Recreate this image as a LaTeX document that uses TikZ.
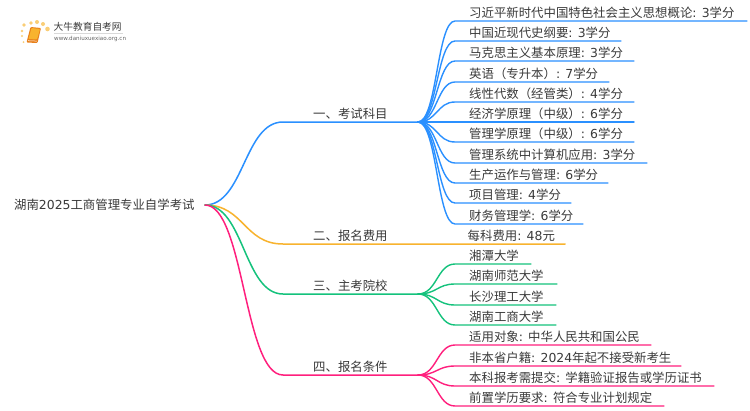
\documentclass[tikz,border=0pt]{standalone}
\usepackage{fontspec}
\setmainfont{DejaVu Sans}
\newfontfamily\cjk{Noto Sans CJK SC}
\newcommand{\C}[1]{{\cjk #1}}
\definecolor{cblue}{HTML}{2A90FF}
\definecolor{corange}{HTML}{F8B32E}
\definecolor{cgreen}{HTML}{14C27C}
\definecolor{cpink}{HTML}{FF1F7D}
\definecolor{ctext}{HTML}{3A3A3A}
\definecolor{cbook}{HTML}{F59A1E}
\definecolor{cbookdark}{HTML}{E8801A}
\tikzset{
  label/.style={anchor=base west,inner sep=0pt,text=ctext,font=\fontsize{12.4pt}{14pt}\selectfont},
  wire/.style={line width=1.5pt,line cap=round},
}
\begin{document}
\begin{tikzpicture}[x=1pt,y=-1pt]
\useasboundingbox (0,0) rectangle (750,410);
\fill[white] (0,0) rectangle (750,410);
% logo
\foreach \i/\px/\py/\r in {a/24/25/1.8,b/22/31/1.3,c/22/36/1.2,d/23.5/42/1,e/31/23/1.9,f/37/22/2,g/43/24/2,h/47.5/29/2.3}
  \fill[corange!65] (\px,\py) circle (\r);
\fill[cbookdark,rounded corners=1pt] (30.5,27) -- (41,28) -- (37.5,43) -- (26.5,42.5) -- cycle;
\fill[corange,rounded corners=.8pt] (31.5,28) -- (40,29) -- (37,39.5) -- (28.5,39) -- cycle;
\draw[white,line width=.5pt] (28,40.7) -- (36.8,41.1);
\node[anchor=base west,inner sep=0pt,text=ctext,font=\fontsize{9.7pt}{11pt}\selectfont] (logotitle) at (53.5,30.5) {\C{大牛教育自考网}};
\draw[black!15,line width=.6pt] (54,33.5) -- (123,33.5);
\node[anchor=base west,inner sep=0pt,text=black!60,font=\fontsize{5.6pt}{7pt}\selectfont] (logourl) at (54,40.5) {www.daniuxuexiao.org.cn};
% root
\node[label] (root) at (14,209.5) {\C{湖南}2025\C{工商管理专业自学考试}};
\coordinate (o) at (205,205);
% branches
\foreach \n/\y/\c/\e/\t in {
  b1/122/cblue/418/一、考试科目,
  b2/244/corange/565/二、报名费用,
  b3/294/cgreen/418/三、主考院校,
  b4/375/cpink/418/四、报名条件}{
  \coordinate (\n s) at (283,\y);
  \coordinate (\n e) at (\e,\y);
  \node[label] (\n) at (313,\y-3.5) {\C{\t}};
  \draw[wire,\c] (o) .. controls (244,205) and (244,\y) .. (\n s) -- (\n e);
}
\node[label] (fee) at (467.5,240) {\C{每科费用}: 48\C{元}};
% leaves
\foreach \n/\p/\c/\py/\y/\e/\t in {
  a1/b1/cblue/122/21/747/{\C{习近平新时代中国特色社会主义思想概论}: 3\C{学分}},
  a2/b1/cblue/122/41/621/{\C{中国近现代史纲要}: 3\C{学分}},
  a3/b1/cblue/122/61/634/{\C{马克思主义基本原理}: 3\C{学分}},
  a4/b1/cblue/122/82/609/{\C{英语（专升本）}: 7\C{学分}},
  a5/b1/cblue/122/102/634/{\C{线性代数（经管类）}: 4\C{学分}},
  a6/b1/cblue/122/122/634/{\C{经济学原理（中级）}: 6\C{学分}},
  a7/b1/cblue/122/142/634/{\C{管理学原理（中级）}: 6\C{学分}},
  a8/b1/cblue/122/163/647/{\C{管理系统中计算机应用}: 3\C{学分}},
  a9/b1/cblue/122/183/608/{\C{生产运作与管理}: 6\C{学分}},
  a10/b1/cblue/122/203/571/{\C{项目管理}: 4\C{学分}},
  a11/b1/cblue/122/224/583/{\C{财务管理学}: 6\C{学分}},
  c1/b3/cgreen/294/264/531/{\C{湘潭大学}},
  c2/b3/cgreen/294/284/557/{\C{湖南师范大学}},
  c3/b3/cgreen/294/305/556/{\C{长沙理工大学}},
  c4/b3/cgreen/294/325/556/{\C{湖南工商大学}},
  d1/b4/cpink/375/345/651/{\C{适用对象}: \C{中华人民共和国公民}},
  d2/b4/cpink/375/366/681/{\C{非本省户籍}: 2024\C{年起不接受新考生}},
  d3/b4/cpink/375/386/714/{\C{本科报考需提交}: \C{学籍验证报告或学历证书}},
  d4/b4/cpink/375/406/664/{\C{前置学历要求}: \C{符合专业计划规定}}}{
  \node[label] (\n) at (469,\y-3.5) {\t};
  \coordinate (\n s) at (455,\y);
  \coordinate (\n e) at (\e,\y);
  \draw[wire,\c,line width=1.4pt] (\p e) .. controls (437,\py) and (437,\y) .. (\n s) -- (\n e);
}
\end{tikzpicture}
\end{document}
